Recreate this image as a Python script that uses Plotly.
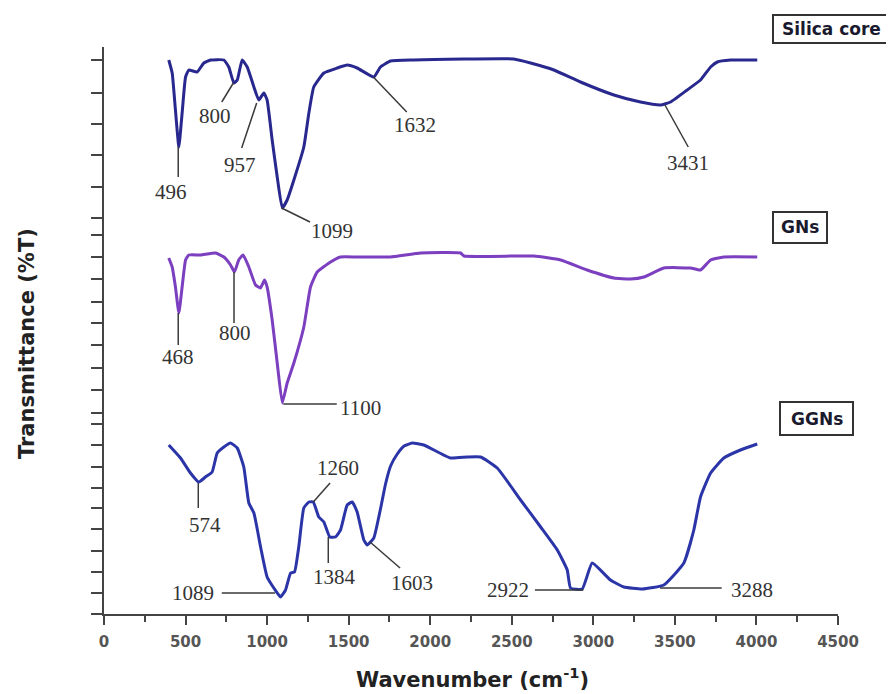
import plotly.graph_objects as go

# ---------------- data ----------------
silica_x = [397, 418, 438, 459, 479, 500, 520, 571, 612, 653, 735, 765, 796, 817, 847, 878,
            919, 949, 980, 1000, 1031, 1062, 1093, 1123, 1164, 1225, 1256, 1286, 1348, 1430,
            1491, 1552, 1654, 1695, 1757, 1900, 2512, 2615, 2758, 2921, 3126, 3289, 3412,
            3473, 3575, 3657, 3719, 3760, 3841, 4005]
silica_y = [554, 541, 504, 467, 501, 537, 544, 542, 551, 554, 554, 547, 531, 534, 554, 547,
            527, 514, 521, 514, 474, 437, 406, 414, 434, 467, 501, 527, 541, 546,
            549, 546, 537, 547, 553, 554, 555, 551, 544, 532, 519, 512, 509,
            512, 524, 534, 547, 552, 554, 554]

gns_x = [397, 418, 438, 459, 479, 500, 520, 592, 684, 735, 776, 800, 826, 853, 888, 929,
         959, 984, 1000, 1031, 1062, 1093, 1123, 1164, 1225, 1266, 1307, 1389, 1450, 1552,
         1757, 1941, 2186, 2207, 2635, 2799, 2962, 3126, 3228, 3310, 3432, 3596, 3657,
         3719, 3800, 4005]
gns_y = [356, 347, 327, 301, 327, 354, 359, 359, 361, 357, 349, 342, 354, 359, 347, 329,
         326, 334, 327, 294, 251, 211, 231, 251, 287, 327, 342, 352, 357, 357,
         357, 361, 361, 358, 358, 354, 344, 336, 335, 337, 346, 346, 344,
         354, 357, 357]

ggns_x = [397, 469, 530, 581, 622, 663, 694, 735, 776, 817, 857, 888, 919, 960, 1000,
          1041, 1082, 1113, 1144, 1168, 1194, 1225, 1256, 1283, 1317, 1348, 1384, 1419,
          1450, 1491, 1522, 1552, 1593, 1614, 1654, 1695, 1726, 1757, 1798, 1840, 1890,
          1961, 2124, 2227, 2309, 2411, 2554, 2677, 2779, 2840, 2860, 2932, 2993, 3105,
          3187, 3300, 3432, 3555, 3616, 3657, 3719, 3800, 3902, 4005]
ggns_y = [169, 156, 141, 132, 137, 142, 161, 167, 171, 166, 147, 111, 101, 67, 37,
          26, 17, 24, 41, 42, 67, 106, 112, 112, 97, 92, 77, 77,
          84, 109, 112, 102, 74, 69, 76, 105, 130, 148, 160, 168, 171,
          169, 156, 157, 157, 146, 114, 87, 64, 44, 26, 25, 51, 34,
          27, 25, 29, 51, 84, 117, 141, 156, 164, 170]

x_tick_vals = [0, 500, 1000, 1500, 2000, 2500, 3000, 3500, 4000, 4500]
x_tick_text = [str(v) for v in x_tick_vals]
y_tick_vals = [554, 521, 490, 459, 427, 396, 379, 357, 335, 312, 291, 269, 246, 224,
               201, 190, 169, 147, 126, 106, 85, 63, 42, 21, 0]

series_names = ["Silica core", "GNs", "GGNs"]
series_colors = ["#28288f", "#7b3fbf", "#2b35a8"]

# peak labels: text, leader line start (x, y), leader line end (x, y), text position (x, y)
peak_labels = [
    ("496", 455, 467, 455, 437, 411, 422),
    ("800", 793, 531, 722, 512, 681, 498),
    ("957", 936, 511, 844, 466, 834, 449),
    ("1099", 1089, 406, 1263, 392, 1396, 383),
    ("1632", 1651, 537, 1856, 502, 1907, 489),
    ("3431", 3439, 509, 3582, 467, 3582, 451),
    ("468", 455, 301, 455, 269, 455, 257),
    ("800", 797, 342, 797, 291, 803, 281),
    ("1100", 1099, 210, 1427, 210, 1572, 206),
    ("574", 578, 131, 578, 106, 619, 89),
    ("1260", 1283, 112, 1386, 131, 1436, 146),
    ("1384", 1375, 77, 1375, 51, 1416, 37),
    ("1603", 1631, 72, 1815, 46, 1886, 31),
    ("1089", 1048, 21, 722, 21, 547, 21),
    ("2922", 2939, 24, 2642, 24, 2479, 24),
    ("3288", 3409, 26, 3787, 26, 3971, 24),
]

# ---------------- figure ----------------
OFF = 8                      # page body margin
W, H = 894 - OFF, 694 - OFF
L, R, T, B = 104 - OFF, 56, 47 - OFF, 80
PW, PH = W - L - R, H - T - B


def paper(px, py):
    """window pixel -> paper coordinate"""
    fx, fy = px - OFF, py - OFF
    return (fx - L) / PW, (H - B - fy) / PH


fig = go.Figure()
for name, xs, ys, col in zip(series_names, [silica_x, gns_x, ggns_x],
                             [silica_y, gns_y, ggns_y], series_colors):
    fig.add_trace(go.Scatter(x=xs, y=ys, mode="lines", name=name,
                             line=dict(color=col, width=3, shape="spline", smoothing=0.4),
                             showlegend=False))

shapes = []
annotations = []
for txt, x0, y0, x1, y1, tx, ty in peak_labels:
    shapes.append(dict(type="line", xref="x", yref="y", x0=x0, y0=y0, x1=x1, y1=y1,
                       line=dict(color="#3a3a3a", width=1.5)))
    annotations.append(dict(text=txt, x=tx, y=ty, xref="x", yref="y", showarrow=False,
                            font=dict(family="Liberation Serif", size=21, color="#333333"),
                            xanchor="center", yanchor="middle"))

# boxed series labels (left, top, right, bottom in window px)
boxes = [("Silica core", 773, 15, 889, 43),
         ("GNs", 773, 212, 827, 243),
         ("GGNs", 780, 402, 853, 435)]
for txt, bx0, by0, bx1, by1 in boxes:
    px0, py0 = paper(bx0, by1)
    px1, py1 = paper(bx1, by0)
    shapes.append(dict(type="rect", xref="paper", yref="paper", x0=px0, y0=py0, x1=px1, y1=py1,
                       line=dict(color="#333333", width=2), fillcolor="white"))
    cx, cy = paper((bx0 + bx1) / 2, (by0 + by1) / 2)
    annotations.append(dict(text="<b>%s</b>" % txt, x=cx, y=cy, xref="paper", yref="paper",
                            showarrow=False, xanchor="center", yanchor="middle",
                            font=dict(family="DejaVu Sans", size=17, color="#1a1a2e")))

# axis titles
tx, ty = paper(472, 678)
annotations.append(dict(text="<b>Wavenumber (cm<sup>-1</sup>)</b>", x=tx, y=ty, xref="paper",
                        yref="paper", showarrow=False, xanchor="center", yanchor="middle",
                        font=dict(family="DejaVu Sans", size=21, color="#222222")))
tx, ty = paper(27, 344)
annotations.append(dict(text="<b>Transmittance (%T)</b>", x=tx, y=ty, xref="paper",
                        yref="paper", showarrow=False, xanchor="center", yanchor="middle",
                        textangle=-90,
                        font=dict(family="DejaVu Sans", size=21, color="#222222")))

fig.update_layout(
    width=W, height=H,
    margin=dict(l=L, r=R, t=T, b=B, pad=0),
    paper_bgcolor="white", plot_bgcolor="white",
    shapes=shapes, annotations=annotations,
    xaxis=dict(range=[0, 4500], showgrid=False, zeroline=False, showline=True,
               linecolor="#444444", linewidth=2, ticks="outside", ticklen=9, tickwidth=2,
               tickcolor="#444444", tickvals=x_tick_vals, ticktext=x_tick_text,
               ticklabelstandoff=4,
               tickfont=dict(family="DejaVu Sans", size=15, color="#555555", weight="bold"),
               minor=dict(ticks="outside", ticklen=6, tickwidth=2, tickcolor="#444444",
                          dtick=250, tick0=0, showgrid=False)),
    yaxis=dict(range=[0, 567], showgrid=False, zeroline=False, showline=True,
               linecolor="#444444", linewidth=2, ticks="outside", ticklen=11, tickwidth=2,
               tickcolor="#444444", tickvals=y_tick_vals, showticklabels=False),
)

fig.write_html("out.html")
